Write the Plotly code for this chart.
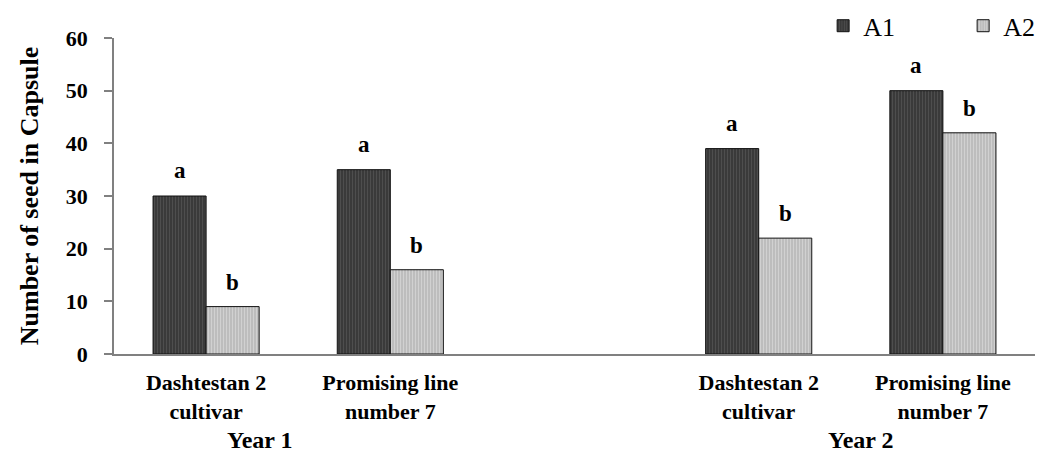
import plotly.graph_objects as go

# ---- data ----
group_labels = ["Dashtestan 2<br>cultivar", "Promising line<br>number 7",
                "Dashtestan 2<br>cultivar", "Promising line<br>number 7"]
year_labels = ["Year 1", "Year 2"]
a1_values = [30, 35, 39, 50]
a2_values = [9, 16, 22, 42]
a1_letters = ["a", "a", "a", "a"]
a2_letters = ["b", "b", "b", "b"]
y_ticks = [0, 10, 20, 30, 40, 50, 60]

# ---- layout helpers ----
slots = [0, 1, 3, 4]          # slot 2 is the gap between years
year_pos = [0.29, 3.555]
bw = 0.288
FONT = "Liberation Serif"

fig = go.Figure()
fig.add_trace(go.Bar(
    x=slots, y=a1_values, name="A1", width=bw, offset=-bw,
    marker=dict(color="#3d3d3d", line=dict(color="#111111", width=1),
                pattern=dict(shape="|", size=3, solidity=0.35,
                             fgcolor="#626262", bgcolor="#3a3a3a")),
))
fig.add_trace(go.Bar(
    x=slots, y=a2_values, name="A2", width=bw, offset=0,
    marker=dict(color="#c6c6c6", line=dict(color="#111111", width=1),
                pattern=dict(shape="|", size=3, solidity=0.35,
                             fgcolor="#e6e6e6", bgcolor="#bdbdbd")),
))

annotations = []
for s, v, t in zip(slots, a1_values, a1_letters):
    annotations.append(dict(x=s - bw / 2, y=v, text=t, showarrow=False,
                            yanchor="bottom", yshift=11,
                            font=dict(family=FONT, size=23, color="black", weight="bold")))
for s, v, t in zip(slots, a2_values, a2_letters):
    annotations.append(dict(x=s + bw / 2, y=v, text=t, showarrow=False,
                            yanchor="bottom", yshift=10,
                            font=dict(family=FONT, size=23, color="black", weight="bold")))
for xp, t in zip(year_pos, year_labels):
    annotations.append(dict(x=xp, y=-0.272, xref="x", yref="paper", text=t,
                            showarrow=False, yanchor="middle",
                            font=dict(family=FONT, size=24, color="black", weight="bold")))

fig.update_layout(
    width=1038, height=462,
    margin=dict(l=114, r=3, t=38, b=108, autoexpand=False),
    plot_bgcolor="white", paper_bgcolor="white",
    barmode="overlay",
    showlegend=True,
    legend=dict(orientation="h", x=0.793, xanchor="left", y=0.995, yanchor="top",
                yref="container", xref="container",
                font=dict(family=FONT, size=26, color="black"),
                entrywidth=95, traceorder="normal", bgcolor="rgba(0,0,0,0)"),
    annotations=annotations,
    xaxis=dict(range=[-0.5, 4.5], tickvals=slots, ticktext=group_labels,
               showline=True, linecolor="#808080", linewidth=1.5,
               ticks="", showgrid=False, zeroline=False, automargin=False,
               ticklabelstandoff=8,
               tickfont=dict(family=FONT, size=22, color="black", weight="bold")),
    yaxis=dict(range=[0, 60], tickvals=y_ticks, automargin=False,
               showline=True, linecolor="#808080", linewidth=1.5,
               ticks="outside", ticklen=8, tickcolor="#808080", tickwidth=1.5,
               showgrid=False, zeroline=False, ticklabelstandoff=12,
               tickfont=dict(family=FONT, size=22, color="black", weight="bold"),
               title=dict(text="Number of seed in Capsule", standoff=20,
                          font=dict(family=FONT, size=26, color="black", weight="bold"))),
)

fig.write_html("out.html", config={"displayModeBar": False},
               post_script="document.body.style.margin='0';")
